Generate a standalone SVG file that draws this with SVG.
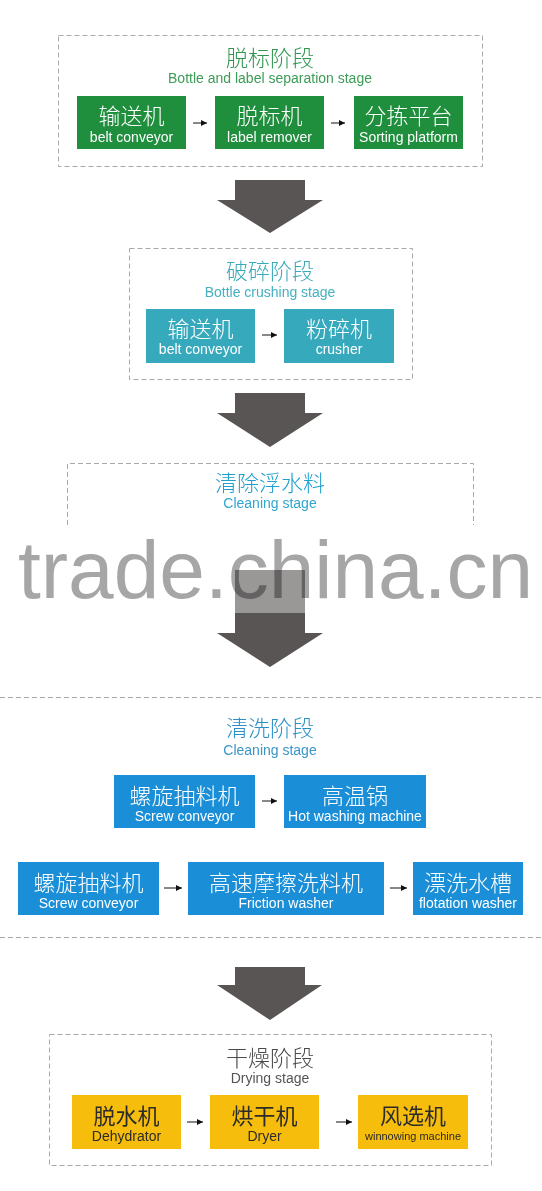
<svg xmlns="http://www.w3.org/2000/svg" width="542" height="1191" viewBox="0 0 542 1191">
<defs>
<style>
.stage{fill:none;stroke:#a9a9a9;stroke-width:1;stroke-dasharray:5 3}
.cn{font-family:"Noto Sans CJK SC","Noto Sans CJK TC",sans-serif;text-anchor:middle;font-weight:300}
.en{font-family:"Liberation Sans",Arial,sans-serif;text-anchor:middle}
.t{font-size:22px}
.st{font-size:14px}
.bc{font-size:22px;fill:#fff}
.be{font-size:14px;fill:#fff}
.green{fill:#1f8e3d}
.teal{fill:#37a9bc}
.blue{fill:#1a8ed6}
.yellow{fill:#f6bd0c}
.big{fill:#5a5555}
.lnk{stroke:#111;stroke-width:1;fill:none;marker-end:url(#ah)}
.sep{stroke:#a9a9a9;stroke-width:1;stroke-dasharray:5 3}
</style>
<marker id="ah" viewBox="0 0 6 6" refX="6" refY="3" markerWidth="6" markerHeight="6" orient="auto" markerUnits="userSpaceOnUse">
<path d="M0,0 L6,3 L0,6 Z" fill="#111"/>
</marker>
</defs>
<rect width="542" height="1191" fill="#fff"/>

<g id="stage-label">
<rect class="stage" x="58.5" y="35.5" width="424" height="131"/>
<text class="cn t" x="270" y="66" fill="#2f974d">脱标阶段</text>
<text class="en st" x="270" y="83" fill="#3c9c58">Bottle and label separation stage</text>
</g>
<g id="n-belt1">
<rect class="green" x="77" y="96" width="109" height="53"/>
<text class="cn bc" x="131.5" y="124">输送机</text>
<text class="en be" x="131.5" y="142">belt conveyor</text>
</g>
<g id="n-labelremover">
<rect class="green" x="215" y="96" width="109" height="53"/>
<text class="cn bc" x="269.5" y="124">脱标机</text>
<text class="en be" x="269.5" y="142">label remover</text>
</g>
<g id="n-sorting">
<rect class="green" x="354" y="96" width="109" height="53"/>
<text class="cn bc" x="408.5" y="124">分拣平台</text>
<text class="en be" x="408.5" y="142">Sorting platform</text>
</g>

<g id="stage-crush">
<rect class="stage" x="129.5" y="248.5" width="283" height="131"/>
<text class="cn t" x="270" y="279" fill="#3aaabb">破碎阶段</text>
<text class="en st" x="270" y="297" fill="#45b0c0">Bottle crushing stage</text>
</g>
<g id="n-belt2">
<rect class="teal" x="146" y="309" width="109" height="54"/>
<text class="cn bc" x="200.5" y="337">输送机</text>
<text class="en be" x="200.5" y="354">belt conveyor</text>
</g>
<g id="n-crusher">
<rect class="teal" x="284" y="309" width="110" height="54"/>
<text class="cn bc" x="339" y="337">粉碎机</text>
<text class="en be" x="339" y="354">crusher</text>
</g>

<g id="stage-float">
<path class="stage" d="M67.5,525 V463.5 H473.5 V525"/>
<text class="cn t" x="270" y="491" fill="#1e9fd0">清除浮水料</text>
<text class="en st" x="270" y="508" fill="#30a6cf">Cleaning stage</text>
</g>

<g id="stage-clean">
<text class="cn t" x="270" y="736" fill="#2a90c8">清洗阶段</text>
<text class="en st" x="270" y="755" fill="#3a94c8">Cleaning stage</text>
</g>
<g id="n-screw1">
<rect class="blue" x="114" y="775" width="141" height="53"/>
<text class="cn bc" x="184.5" y="804">螺旋抽料机</text>
<text class="en be" x="184.5" y="821">Screw conveyor</text>
</g>
<g id="n-hotwash">
<rect class="blue" x="284" y="775" width="142" height="53"/>
<text class="cn bc" x="355" y="804">高温锅</text>
<text class="en be" x="355" y="821">Hot washing machine</text>
</g>
<g id="n-screw2">
<rect class="blue" x="18" y="862" width="141" height="53"/>
<text class="cn bc" x="88.5" y="891">螺旋抽料机</text>
<text class="en be" x="88.5" y="908">Screw conveyor</text>
</g>
<g id="n-friction">
<rect class="blue" x="188" y="862" width="196" height="53"/>
<text class="cn bc" x="286" y="891">高速摩擦洗料机</text>
<text class="en be" x="286" y="908">Friction washer</text>
</g>
<g id="n-flotation">
<rect class="blue" x="413" y="862" width="110" height="53"/>
<text class="cn bc" x="468" y="891">漂洗水槽</text>
<text class="en be" x="468" y="908">flotation washer</text>
</g>

<g id="stage-dry">
<rect class="stage" x="49.5" y="1034.5" width="442" height="131"/>
<text class="cn t" x="270" y="1066" fill="#4a4a4a">干燥阶段</text>
<text class="en st" x="270" y="1083" fill="#555">Drying stage</text>
</g>
<g id="n-dehydrator">
<rect class="yellow" x="72" y="1095" width="109" height="54"/>
<text class="cn bc" x="126.5" y="1124" style="fill:#2b2b2b;font-weight:400">脱水机</text>
<text class="en be" x="126.5" y="1141" style="fill:#2b2b2b">Dehydrator</text>
</g>
<g id="n-dryer">
<rect class="yellow" x="210" y="1095" width="109" height="54"/>
<text class="cn bc" x="264.5" y="1124" style="fill:#2b2b2b;font-weight:400">烘干机</text>
<text class="en be" x="264.5" y="1141" style="fill:#2b2b2b">Dryer</text>
</g>
<g id="n-winnow">
<rect class="yellow" x="358" y="1095" width="110" height="54"/>
<text class="cn bc" x="413" y="1124" style="fill:#2b2b2b;font-weight:400">风选机</text>
<text class="en" x="413" y="1140" style="fill:#2b2b2b;font-size:11px">winnowing machine</text>
</g>

<g id="connectors">
<line class="lnk" x1="193" y1="123" x2="207" y2="123"/>
<line class="lnk" x1="331" y1="123" x2="345" y2="123"/>
<line class="lnk" x1="262" y1="335" x2="277" y2="335"/>
<line class="lnk" x1="262" y1="801" x2="277" y2="801"/>
<line class="lnk" x1="164" y1="888" x2="182" y2="888"/>
<line class="lnk" x1="390" y1="888" x2="407" y2="888"/>
<line class="lnk" x1="187" y1="1122" x2="203" y2="1122"/>
<line class="lnk" x1="336" y1="1122" x2="352" y2="1122"/>
<polygon class="big" points="235,180 305,180 305,200 323,200 270,233 217,200 235,200"/>
<polygon class="big" points="235,393 305,393 305,413 323,413 270,447 217,413 235,413"/>
<rect x="235" y="570" width="70" height="43" fill="#9a9797"/>
<polygon class="big" points="235,613 305,613 305,633 323,633 270,667 217,633 235,633"/>
<polygon class="big" points="235,967 305,967 305,985 322,985 270,1020 217,985 235,985"/>
<line class="sep" x1="0" y1="697.5" x2="542" y2="697.5"/>
<line class="sep" x1="0" y1="937.5" x2="542" y2="937.5"/>
</g>

<text x="18" y="598" font-family="Liberation Sans, Arial, sans-serif" font-size="82" fill="#a6a6a6" style="mix-blend-mode:multiply">trade.china.cn</text>
</svg>
